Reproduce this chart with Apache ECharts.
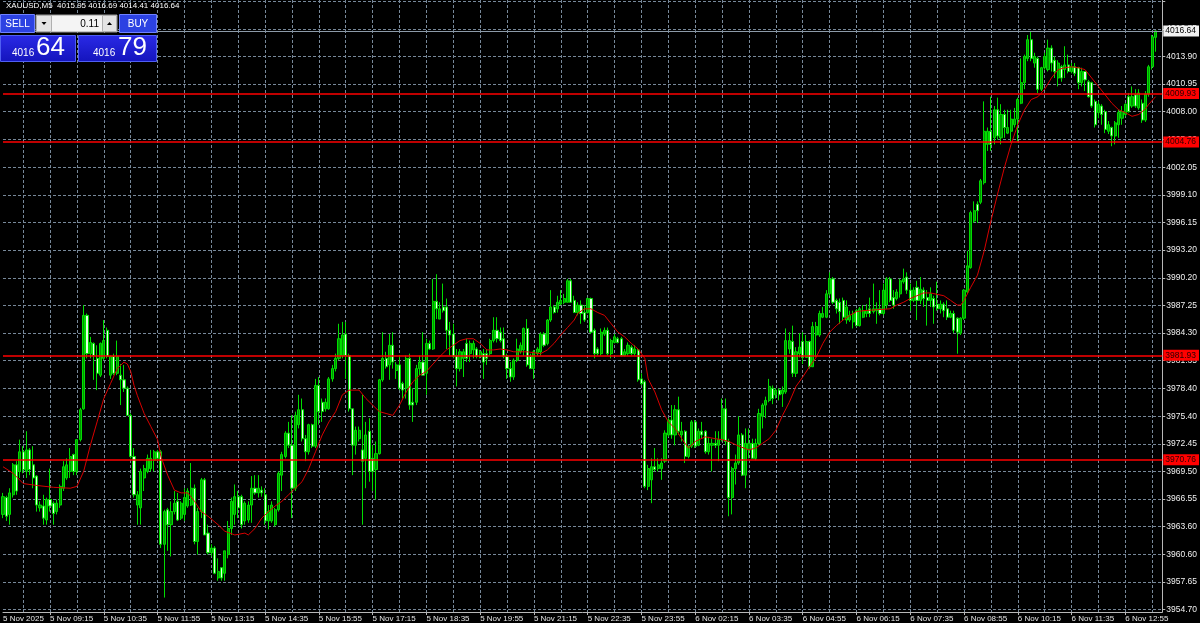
<!DOCTYPE html>
<html>
<head>
<meta charset="utf-8">
<script src="https://cdn.jsdelivr.net/npm/echarts@6/dist/echarts.min.js"></script>
<style>
html,body{margin:0;padding:0;background:#000;}
#chart{width:1200px;height:623px;}
</style>
</head>
<body>
<div id="chart"></div>
<script>
// ---------- data ----------
const symbolTitle = 'XAUUSD,M5  4015.95 4016.69 4014.41 4016.64';
const firstLabel = '5 Nov 2025';
const sessions = [
  { day: '5 Nov', start: '08:05', bars: 191 },
  { day: '6 Nov', start: '01:00', bars: 153 }
];
const spareSlots = 2;

// rows: [open, high, low, close]
const candles5Nov = [
[3964.9,3967.2,3964.5,3966.8],[3966.7,3966.9,3964.2,3964.7],[3964.9,3967.7,3963.8,3967.2],[3967.0,3970.4,3966.7,3970.2],
[3970.2,3970.6,3967.0,3967.4],[3969.5,3972.9,3968.8,3971.6],[3971.6,3972.2,3969.3,3969.7],[3969.5,3973.8,3968.8,3971.8],
[3971.8,3972.0,3969.1,3969.7],[3970.2,3972.2,3967.7,3968.8],[3969.0,3969.1,3965.2,3965.9],[3965.6,3966.3,3965.2,3965.9],
[3965.8,3967.0,3963.8,3964.5],[3964.3,3966.7,3963.8,3966.5],[3966.5,3969.8,3965.2,3965.8],[3966.1,3966.3,3963.8,3965.0],
[3965.2,3966.5,3964.9,3966.1],[3965.9,3968.1,3965.6,3967.9],[3967.7,3970.6,3967.4,3970.0],[3968.8,3970.9,3968.6,3970.2],
[3969.5,3972.0,3968.8,3971.1],[3971.3,3971.4,3969.1,3969.5],[3969.5,3972.9,3969.1,3972.9],[3972.9,3976.3,3972.7,3976.1],
[3976.2,3987.3,3976.1,3986.2],[3986.2,3986.4,3981.6,3982.1],[3982.1,3983.9,3981.6,3983.3],[3983.2,3983.3,3979.3,3981.9],
[3981.6,3983.0,3978.2,3980.0],[3979.8,3983.3,3979.6,3983.2],[3981.6,3985.7,3981.4,3983.5],[3984.6,3984.9,3981.6,3981.8],
[3979.8,3981.9,3979.4,3981.8],[3981.8,3982.1,3979.8,3980.0],[3980.0,3983.5,3979.8,3981.8],[3979.8,3981.0,3976.6,3979.3],
[3979.3,3980.9,3978.0,3978.4],[3978.4,3978.6,3975.5,3975.5],[3975.5,3975.7,3970.9,3971.1],[3971.1,3972.0,3966.7,3967.0],
[3965.9,3967.4,3963.8,3967.0],[3965.6,3969.8,3963.8,3969.5],[3968.8,3970.2,3967.4,3969.8],[3969.5,3971.3,3969.3,3970.9],
[3969.8,3971.8,3969.5,3970.9],[3970.7,3971.8,3969.5,3971.6],[3971.6,3971.8,3970.6,3970.9],[3971.6,3971.8,3961.3,3961.7],
[3961.7,3965.4,3956.0,3965.2],[3965.4,3965.6,3961.0,3963.8],[3963.8,3966.3,3960.4,3965.2],[3965.2,3967.4,3964.9,3966.1],
[3966.3,3967.2,3964.2,3964.3],[3964.5,3966.3,3964.3,3966.1],[3964.9,3967.7,3964.2,3966.7],[3965.8,3967.7,3965.6,3967.4],
[3965.9,3970.4,3965.8,3967.7],[3967.7,3968.1,3961.7,3962.0],[3962.0,3965.6,3960.6,3965.2],[3965.2,3968.8,3964.5,3968.6],
[3968.6,3968.8,3962.7,3962.7],[3962.9,3963.8,3960.6,3960.8],[3960.8,3961.7,3960.4,3961.3],[3961.3,3961.5,3958.5,3958.6],
[3958.1,3960.2,3957.8,3958.8],[3959.2,3959.2,3957.8,3958.1],[3958.6,3961.0,3957.8,3961.0],[3960.6,3964.2,3960.2,3963.4],
[3963.4,3966.7,3962.7,3966.3],[3964.9,3968.1,3963.8,3966.8],[3966.8,3967.4,3964.5,3965.6],[3966.8,3967.0,3963.4,3963.8],
[3964.2,3966.3,3963.8,3966.1],[3964.3,3966.3,3964.0,3965.9],[3965.9,3969.0,3964.0,3967.7],[3967.7,3969.1,3967.0,3967.2],
[3967.2,3969.1,3966.7,3967.7],[3967.5,3967.9,3966.8,3967.2],[3967.0,3967.7,3963.8,3964.2],[3964.2,3965.9,3963.3,3965.2],
[3964.2,3966.3,3964.0,3965.9],[3963.8,3965.6,3963.6,3965.4],[3965.4,3969.5,3965.2,3969.3],[3969.1,3971.6,3967.4,3971.3],
[3971.1,3973.8,3970.9,3973.6],[3973.6,3974.8,3972.0,3972.3],[3972.3,3975.5,3964.5,3967.7],[3967.7,3975.9,3967.4,3975.5],
[3974.5,3977.7,3974.1,3976.1],[3976.1,3977.3,3972.7,3973.0],[3973.0,3973.4,3970.6,3971.6],[3971.6,3974.6,3971.3,3974.5],
[3974.5,3974.6,3972.0,3972.2],[3972.2,3979.4,3972.0,3978.7],[3978.7,3979.6,3974.5,3975.9],[3976.9,3977.3,3974.8,3975.9],
[3976.2,3977.3,3975.9,3976.9],[3976.2,3979.6,3976.1,3979.4],[3979.4,3980.9,3979.1,3980.5],[3980.5,3982.1,3980.2,3981.6],
[3981.6,3985.3,3981.4,3983.7],[3981.9,3985.5,3981.6,3984.1],[3984.2,3985.5,3979.4,3981.9],[3981.9,3982.1,3975.9,3976.2],
[3976.2,3976.2,3969.1,3972.3],[3972.3,3974.3,3971.3,3973.9],[3973.0,3974.3,3972.7,3973.9],[3971.8,3977.7,3963.8,3970.6],
[3970.9,3974.8,3967.7,3973.4],[3973.8,3975.2,3968.4,3969.5],[3970.9,3972.3,3967.4,3969.5],[3969.7,3972.7,3966.5,3971.4],
[3971.4,3979.4,3971.3,3979.3],[3979.3,3984.4,3979.1,3981.6],[3981.6,3982.3,3980.5,3980.7],[3980.9,3984.2,3979.3,3983.0],
[3983.0,3984.4,3980.5,3981.2],[3980.3,3981.2,3979.4,3980.9],[3980.9,3981.9,3978.2,3978.4],[3978.9,3979.1,3977.3,3978.2],
[3978.4,3981.9,3977.3,3981.6],[3981.6,3982.1,3976.1,3976.6],[3976.9,3978.4,3974.8,3976.6],[3976.9,3980.9,3976.6,3980.5],
[3980.5,3981.9,3979.8,3981.2],[3981.2,3984.4,3979.8,3979.8],[3980.0,3983.7,3977.7,3983.2],[3983.2,3983.5,3982.5,3982.6],
[3982.6,3990.1,3982.5,3987.7],[3987.7,3990.6,3985.8,3986.9],[3985.8,3987.6,3985.8,3986.9],[3987.1,3989.6,3986.5,3986.7],
[3987.1,3988.0,3982.6,3984.6],[3984.6,3985.5,3981.9,3984.1],[3984.2,3985.3,3981.6,3981.8],[3981.9,3982.6,3978.6,3980.5],
[3980.5,3982.6,3980.2,3982.3],[3981.6,3982.6,3979.6,3982.3],[3983.2,3983.7,3981.2,3981.6],[3982.1,3983.5,3981.2,3983.2],
[3982.5,3983.5,3981.6,3983.2],[3982.6,3982.8,3981.6,3981.8],[3981.8,3982.5,3981.6,3982.3],[3982.1,3982.6,3979.4,3981.2],
[3982.1,3982.6,3980.9,3981.6],[3982.1,3983.7,3981.9,3983.5],[3983.5,3986.0,3983.3,3984.6],[3984.6,3986.0,3983.3,3983.7],
[3984.4,3984.9,3983.3,3983.5],[3983.7,3984.9,3981.6,3981.8],[3981.8,3982.1,3979.4,3980.5],[3980.5,3981.2,3979.1,3979.6],
[3979.6,3981.6,3979.3,3981.4],[3981.4,3983.7,3981.2,3982.6],[3982.3,3983.3,3982.1,3983.0],[3982.5,3984.9,3981.9,3984.8],
[3984.8,3985.8,3980.7,3980.9],[3981.8,3982.1,3980.5,3980.5],[3980.5,3982.5,3979.4,3982.3],[3982.1,3982.8,3981.9,3982.6],
[3982.3,3984.4,3981.9,3984.2],[3984.2,3984.4,3982.8,3983.0],[3983.2,3985.8,3983.0,3985.7],[3985.7,3988.9,3985.5,3987.1],
[3987.1,3987.3,3986.4,3986.5],[3986.9,3988.3,3986.5,3987.6],[3987.4,3988.9,3987.3,3987.8],[3987.6,3988.5,3987.4,3988.0],
[3987.6,3990.1,3987.6,3989.9],[3989.9,3990.1,3987.6,3987.6],[3987.8,3988.3,3986.5,3986.5],[3986.5,3987.6,3986.2,3987.3],
[3987.3,3987.8,3985.3,3986.4],[3986.5,3987.3,3985.5,3985.7],[3986.5,3988.1,3986.4,3988.0],[3988.0,3988.1,3984.2,3984.4],
[3984.6,3984.8,3981.6,3982.1],[3982.6,3982.8,3981.9,3982.1],[3982.1,3984.8,3981.9,3984.4],[3984.2,3984.9,3984.0,3984.6],
[3984.6,3984.9,3981.9,3982.1],[3982.1,3983.7,3981.6,3983.5],[3983.3,3984.2,3983.2,3983.9],[3983.7,3983.9,3983.2,3983.3],
[3983.7,3983.9,3981.8,3981.9],[3981.9,3982.6,3981.8,3982.3],[3982.1,3983.3,3981.9,3983.0],[3982.8,3983.0,3981.9,3982.1],
[3982.1,3983.0,3981.9,3982.6],[3982.5,3982.6,3979.1,3979.3],[3979.4,3980.0,3978.7,3978.9]
];
const candles6Nov = [
[3979.1,3979.3,3967.7,3967.9],[3967.9,3970.2,3967.5,3969.8],[3968.6,3970.9,3966.1,3970.0],[3970.0,3972.0,3969.5,3969.7],
[3969.8,3970.9,3969.5,3970.2],[3969.8,3970.9,3968.6,3970.4],[3970.6,3973.9,3970.4,3973.6],[3973.4,3975.2,3973.2,3975.0],
[3975.0,3976.6,3973.0,3973.4],[3973.4,3976.6,3972.3,3976.1],[3976.1,3977.5,3973.4,3973.8],[3973.4,3974.8,3972.7,3973.8],
[3973.8,3973.9,3970.4,3971.1],[3971.1,3972.3,3970.9,3972.2],[3972.2,3975.0,3972.0,3974.8],[3974.8,3975.0,3972.0,3972.2],
[3972.3,3974.1,3972.2,3973.8],[3973.8,3974.8,3973.0,3973.4],[3973.8,3973.9,3971.4,3971.6],[3971.6,3973.2,3971.3,3972.5],
[3972.3,3973.0,3969.5,3972.5],[3972.5,3973.8,3972.0,3972.3],[3972.3,3973.8,3970.6,3972.9],[3972.9,3977.3,3972.7,3976.2],
[3976.2,3977.3,3972.3,3972.7],[3972.7,3973.0,3964.7,3966.7],[3966.7,3970.0,3964.9,3969.8],[3969.8,3971.3,3968.1,3970.4],
[3970.4,3975.4,3970.2,3973.4],[3973.4,3973.6,3969.0,3969.1],[3969.1,3974.1,3967.7,3972.5],[3971.8,3974.1,3970.9,3972.5],
[3972.5,3973.0,3970.9,3970.9],[3970.9,3973.0,3970.7,3972.5],[3972.5,3976.2,3972.3,3975.7],[3975.4,3976.8,3974.1,3976.6],
[3976.6,3977.5,3975.2,3977.1],[3977.1,3979.4,3976.9,3978.6],[3978.4,3978.7,3976.7,3977.3],[3977.7,3978.4,3977.3,3978.2],
[3978.2,3978.4,3977.1,3977.7],[3977.8,3978.6,3976.4,3978.2],[3978.0,3984.8,3977.8,3983.5],[3982.6,3984.4,3982.1,3983.5],
[3983.4,3985.1,3979.6,3980.0],[3980.0,3982.8,3979.6,3982.3],[3982.1,3984.3,3981.7,3982.8],[3983.4,3984.4,3981.0,3981.7],
[3981.7,3984.1,3981.7,3983.4],[3983.4,3983.5,3980.5,3980.7],[3980.7,3985.5,3980.7,3985.0],[3984.1,3985.5,3981.7,3985.0],
[3984.1,3986.7,3983.9,3986.4],[3986.0,3987.1,3985.9,3986.4],[3986.0,3988.9,3985.9,3988.5],[3988.5,3990.8,3988.3,3990.1],
[3990.1,3990.3,3987.4,3987.6],[3987.8,3988.0,3986.4,3986.9],[3987.6,3988.0,3985.3,3986.6],[3987.8,3988.1,3985.7,3986.0],
[3985.7,3987.8,3985.3,3987.1],[3985.7,3986.7,3985.5,3986.2],[3985.5,3986.7,3984.8,3986.4],[3986.7,3986.9,3985.0,3985.1],
[3985.1,3987.1,3985.0,3986.9],[3986.0,3987.3,3985.9,3986.7],[3986.4,3987.4,3986.0,3986.7],[3986.9,3988.1,3986.0,3986.4],
[3986.6,3989.6,3986.4,3986.9],[3986.7,3987.6,3985.3,3986.9],[3986.9,3988.9,3986.2,3986.4],[3986.4,3989.6,3986.2,3988.9],
[3987.3,3990.3,3986.9,3990.1],[3990.1,3990.3,3987.6,3987.8],[3988.1,3988.9,3986.9,3987.3],[3988.0,3989.0,3987.8,3988.7],
[3988.5,3990.1,3988.1,3989.9],[3989.8,3991.2,3989.6,3990.1],[3990.3,3990.8,3988.5,3988.9],[3988.9,3989.6,3986.7,3987.8],
[3987.8,3989.2,3987.6,3988.9],[3989.2,3989.9,3985.7,3987.8],[3987.8,3990.3,3987.4,3989.0],[3988.9,3989.2,3987.1,3988.0],
[3988.1,3988.9,3985.1,3987.8],[3987.8,3989.2,3987.1,3988.5],[3988.0,3988.3,3985.3,3987.1],[3987.4,3989.8,3986.7,3986.9],
[3986.9,3987.8,3986.4,3987.4],[3987.4,3987.6,3986.0,3986.7],[3986.9,3987.8,3985.7,3986.0],[3986.0,3986.7,3985.9,3986.4],
[3986.4,3986.7,3984.3,3984.6],[3985.9,3986.0,3982.1,3984.4],[3984.3,3986.0,3984.1,3985.9],[3985.9,3989.0,3985.7,3988.9],
[3988.7,3993.1,3988.5,3991.5],[3991.3,3997.4,3991.2,3997.2],[3996.3,3998.4,3996.1,3997.4],[3998.1,3998.4,3996.1,3997.4],
[3998.3,4000.8,3998.1,4000.6],[4000.4,4009.1,4000.2,4005.9],[4004.5,4006.3,4003.8,4005.9],[4005.9,4009.6,4003.8,4004.5],
[4005.2,4008.6,4004.5,4008.2],[4008.2,4009.5,4005.0,4005.4],[4005.2,4008.8,4004.5,4007.7],[4007.7,4008.2,4005.2,4006.3],
[4005.7,4008.2,4005.6,4006.3],[4005.9,4008.2,4004.7,4007.2],[4006.6,4008.4,4006.3,4007.2],[4007.2,4009.5,4004.8,4009.3],
[4008.9,4013.7,4008.8,4011.1],[4011.1,4014.1,4010.4,4013.9],[4013.7,4016.2,4013.4,4015.7],[4015.7,4016.6,4013.4,4013.7],
[4013.2,4014.3,4012.7,4013.9],[4013.7,4013.9,4010.0,4010.4],[4010.4,4012.8,4010.2,4012.7],[4012.7,4014.3,4012.5,4013.9],
[4012.5,4015.7,4012.3,4014.8],[4014.8,4015.1,4012.3,4013.2],[4013.5,4013.9,4011.6,4012.3],[4011.6,4013.5,4010.7,4013.2],
[4012.8,4013.0,4011.2,4011.6],[4012.5,4015.0,4011.6,4013.0],[4013.0,4014.1,4012.1,4012.3],[4012.3,4013.2,4012.1,4012.8],
[4012.8,4013.2,4011.8,4012.1],[4012.7,4012.8,4010.4,4011.1],[4011.1,4012.7,4010.7,4012.3],[4012.3,4012.3,4010.2,4011.4],
[4011.2,4011.4,4009.5,4009.6],[4011.1,4011.2,4008.4,4008.6],[4009.1,4009.3,4006.3,4006.6],[4007.9,4009.1,4007.3,4008.8],
[4008.6,4008.8,4006.6,4007.7],[4008.0,4008.2,4005.7,4006.1],[4005.9,4007.0,4005.6,4006.6],[4006.3,4006.4,4004.3,4005.4],
[4005.4,4007.0,4004.5,4006.8],[4006.6,4008.2,4005.2,4007.9],[4007.3,4008.6,4006.6,4008.0],[4007.7,4008.9,4007.5,4008.8],
[4009.6,4010.0,4007.9,4008.0],[4008.6,4010.7,4008.4,4009.6],[4009.8,4010.4,4008.4,4008.6],[4008.4,4010.4,4008.2,4010.0],
[4008.9,4009.3,4006.8,4007.1],[4007.1,4010.2,4006.9,4009.9],[4009.9,4013.0,4009.6,4012.8],[4012.8,4016.2,4012.5,4016.0],
[4015.95,4016.69,4014.41,4016.64]
];

// moving average: [bar index, price]
const maPoints = [
[0,3970.0],[3,3969.3],[6,3968.2],[10,3968.0],[15,3967.8],[20,3967.7],[22,3967.9],[24,3969.5],[26,3972.3],[28,3974.8],
[30,3977.3],[32,3978.9],[34,3980.5],[36,3981.2],[37,3981.0],[38,3980.2],[39,3978.7],[40,3977.6],[42,3975.7],[44,3974.3],
[46,3972.9],[47,3971.1],[49,3969.1],[51,3967.5],[53,3967.2],[55,3967.2],[57,3966.3],[59,3965.2],[61,3964.7],[64,3963.8],
[66,3963.1],[69,3962.7],[72,3962.9],[73,3962.7],[75,3963.4],[77,3964.5],[79,3965.2],[81,3965.8],[83,3966.3],[85,3967.0],
[87,3967.7],[89,3968.4],[91,3969.8],[93,3971.6],[95,3973.4],[97,3974.8],[99,3975.9],[101,3977.7],[103,3978.2],[106,3978.2],
[108,3977.3],[110,3976.6],[112,3975.9],[114,3975.7],[116,3975.5],[118,3976.6],[120,3978.0],[122,3979.1],[124,3979.8],[126,3980.2],
[128,3981.0],[130,3981.8],[132,3982.5],[134,3983.0],[136,3983.5],[138,3983.7],[140,3983.7],[142,3983.2],[144,3982.5],[146,3982.5],
[148,3982.6],[150,3982.5],[152,3982.3],[156,3982.3],[160,3982.1],[162,3982.5],[164,3983.2],[166,3984.1],[168,3984.9],[170,3985.7],
[171,3986.4],[173,3986.9],[175,3986.9],[177,3986.5],[179,3986.2],[181,3985.3],[183,3984.4],[185,3983.9],[187,3983.2],[189,3982.6],
[191,3981.6],[192,3979.4],[194,3978.0],[196,3976.1],[198,3974.8],[200,3974.1],[202,3973.0],[204,3972.0],[206,3972.7],[209,3973.2],
[212,3973.0],[214,3972.9],[216,3972.7],[219,3972.2],[222,3971.8],[224,3972.0],[226,3972.5],[228,3973.0],[230,3973.9],[232,3975.5],
[234,3976.9],[236,3978.6],[238,3979.6],[240,3980.7],[242,3981.7],[244,3983.2],[246,3984.4],[248,3985.1],[250,3985.7],[252,3986.2],
[254,3986.6],[256,3986.7],[260,3986.8],[264,3986.9],[266,3987.3],[268,3987.6],[270,3988.0],[272,3988.3],[274,3988.6],[276,3988.6],
[280,3988.3],[282,3987.8],[284,3987.3],[285,3987.3],[286,3987.8],[288,3989.2],[290,3990.5],[292,3993.1],[294,3996.3],[296,3999.2],
[298,4002.0],[300,4004.5],[302,4006.6],[304,4008.2],[306,4009.3],[308,4009.6],[310,4010.4],[312,4011.6],[314,4012.5],[316,4012.7],
[318,4012.8],[320,4012.7],[322,4012.5],[324,4011.6],[326,4010.7],[328,4009.8],[330,4008.9],[332,4008.2],[334,4007.9],[336,4007.5],
[338,4007.7],[340,4008.3],[341,4008.8],[343,4009.6]
];

const levelLines = [4009.93, 4004.76, 3981.93, 3970.76];
const bidPrice = 4016.64;
const yTicks = [3954.70,3957.65,3960.60,3963.60,3966.55,3969.50,3972.45,3975.40,3978.40,3981.35,3984.30,
  3987.25,3990.20,3993.20,3996.15,3999.10,4002.05,4005.00,4008.00,4010.95,4013.90,4016.85,4019.80];
const yTickLabels = yTicks.slice(0, yTicks.length - 1);
const priceMin = 3954.455, priceMax = 4019.948;
const sellQuote = ['4016', '64'];
const buyQuote = ['4016', '79'];
const lotSize = '0.11';

// ---------- build ----------
function pad(n){ return (n < 10 ? '0' : '') + n; }
const categories = [];
sessions.forEach(s => {
  const [h, m] = s.start.split(':').map(Number);
  for (let k = 0; k < s.bars; k++) {
    const t = h * 60 + m + 5 * k;
    categories.push(s.day + ' ' + pad(Math.floor(t / 60)) + ':' + pad(t % 60));
  }
});
for (let k = 0; k < spareSlots; k++) categories.push('');

const rows = candles5Nov.concat(candles6Nov);
const candleData = rows.map(r => [r[0], r[3], r[2], r[1]]);

const FONT = '"Liberation Sans", Arial, sans-serif';
const gridColor = '#778899';
const isLabelIdx = i => i === 0 || (i >= 14 && (i - 14) % 16 === 0);

const chart = echarts.init(document.getElementById('chart'), null, {renderer: 'canvas'});

function levelItem(v) {
  return {
    yAxis: v,
    lineStyle: {color: '#ff0000', type: 'solid', width: 1.5},
    label: {
      show: true, position: 'end', distance: 1, formatter: () => v.toFixed(2),
      backgroundColor: '#ff0000', color: '#2a0000', fontFamily: FONT, fontSize: 8.5,
      padding: [1, 3, 1, 2]
    }
  };
}

const option = {
  backgroundColor: '#000000',
  animation: false,
  grid: {left: 0, right: 37, top: 0, bottom: 9, containLabel: false},
  xAxis: {
    type: 'category',
    data: categories,
    boundaryGap: false,
    axisLine: {show: true, lineStyle: {color: '#b8b8b8', width: 1}},
    axisTick: {show: true, length: 3, interval: (i) => i > 0 && isLabelIdx(i), lineStyle: {color: '#b8b8b8'}},
    axisLabel: {
      show: true, interval: (i) => isLabelIdx(i), align: 'left', margin: 3,
      hideOverlap: false, showMinLabel: true,
      color: '#e6e6e6', fontFamily: FONT, fontSize: 8,
      formatter: (v, i) => i === 0 ? firstLabel : v
    },
    splitLine: {show: true, interval: (i) => i >= 6 && (i - 6) % 8 === 0,
      lineStyle: {color: gridColor, type: [3, 2], width: 1}}
  },
  yAxis: {
    type: 'value',
    position: 'right',
    min: priceMin, max: priceMax,
    axisLine: {show: true, lineStyle: {color: '#b8b8b8', width: 1}},
    axisTick: {show: true, length: 3, customValues: yTicks, lineStyle: {color: '#b8b8b8'}},
    axisLabel: {
      show: true, customValues: yTickLabels, margin: 4, color: '#f0f0f0',
      fontFamily: FONT, fontSize: 8.5, formatter: v => Number(v).toFixed(2)
    },
    splitLine: {show: true, lineStyle: {color: gridColor, type: [3, 2], width: 1}}
  },
  series: [
    {
      type: 'candlestick',
      data: candleData,
      barWidth: 2.6,
      itemStyle: {
        color: '#009400', color0: '#e4ffe4',
        borderColor: '#00dd00', borderColor0: '#00dd00', borderWidth: 1
      },
      markLine: {
        silent: true, symbol: 'none', animation: false,
        data: levelLines.map(levelItem).concat([{
          yAxis: bidPrice,
          lineStyle: {color: '#8c9aa8', type: 'solid', width: 1},
          label: {
            show: true, position: 'end', distance: 1, formatter: () => bidPrice.toFixed(2),
            backgroundColor: '#f2f2f2', color: '#000000', fontFamily: FONT, fontSize: 8.5,
            padding: [1, 3, 1, 2]
          }
        }])
      }
    },
    {
      type: 'line',
      data: maPoints,
      showSymbol: false,
      symbol: 'none',
      lineStyle: {color: '#d80000', width: 1},
      z: 3
    }
  ],
  graphic: [
    {type: 'text', x: 6, y: 2, z: 100, style: {text: symbolTitle, fill: '#ffffff', fontFamily: FONT, fontSize: 8}},
    // SELL button
    {type: 'rect', z: 100, shape: {x: 0.5, y: 14.5, width: 34, height: 18}, style: {fill: '#2c42e2', stroke: '#6f82ff', lineWidth: 1}},
    {type: 'text', z: 101, x: 17.5, y: 24, style: {text: 'SELL', fill: '#ffffff', fontFamily: FONT, fontSize: 10, align: 'center', verticalAlign: 'middle'}},
    // lot field
    {type: 'rect', z: 100, shape: {x: 36, y: 15, width: 81, height: 17}, style: {fill: '#f4f4f4', stroke: '#9a9a9a', lineWidth: 1}},
    {type: 'rect', z: 101, shape: {x: 36.5, y: 15.5, width: 15, height: 16}, style: {fill: '#e4e4e4', stroke: '#b0b0b0', lineWidth: 1}},
    {type: 'rect', z: 101, shape: {x: 102.5, y: 15.5, width: 14, height: 16}, style: {fill: '#e4e4e4', stroke: '#b0b0b0', lineWidth: 1}},
    {type: 'polygon', z: 102, shape: {points: [[41.5, 22], [46.5, 22], [44, 25]]}, style: {fill: '#000'}},
    {type: 'polygon', z: 102, shape: {points: [[107, 25], [112, 25], [109.5, 22]]}, style: {fill: '#000'}},
    {type: 'text', z: 101, x: 99, y: 24, style: {text: lotSize, fill: '#000000', fontFamily: FONT, fontSize: 10, align: 'right', verticalAlign: 'middle'}},
    // BUY button
    {type: 'rect', z: 100, shape: {x: 119.5, y: 14.5, width: 37, height: 18}, style: {fill: '#2c42e2', stroke: '#6f82ff', lineWidth: 1}},
    {type: 'text', z: 101, x: 138, y: 24, style: {text: 'BUY', fill: '#ffffff', fontFamily: FONT, fontSize: 10, align: 'center', verticalAlign: 'middle'}},
    // price boxes
    {type: 'rect', z: 100, shape: {x: 0.5, y: 35.5, width: 75, height: 26},
      style: {fill: {type: 'linear', x: 0, y: 0, x2: 0, y2: 1, colorStops: [{offset: 0, color: '#2a2ae6'}, {offset: 1, color: '#1414bc'}]}, stroke: '#4f5ff2', lineWidth: 1}},
    {type: 'rect', z: 100, shape: {x: 78.5, y: 35.5, width: 78, height: 26},
      style: {fill: {type: 'linear', x: 0, y: 0, x2: 0, y2: 1, colorStops: [{offset: 0, color: '#2a2ae6'}, {offset: 1, color: '#1414bc'}]}, stroke: '#4f5ff2', lineWidth: 1}},
    {type: 'text', z: 101, x: 12, y: 58, style: {text: sellQuote[0], fill: '#ffffff', fontFamily: FONT, fontSize: 10, verticalAlign: 'bottom'}},
    {type: 'text', z: 101, x: 36, y: 61, style: {text: sellQuote[1], fill: '#ffffff', fontFamily: FONT, fontSize: 26, verticalAlign: 'bottom'}},
    {type: 'text', z: 101, x: 93, y: 58, style: {text: buyQuote[0], fill: '#ffffff', fontFamily: FONT, fontSize: 10, verticalAlign: 'bottom'}},
    {type: 'text', z: 101, x: 118, y: 61, style: {text: buyQuote[1], fill: '#ffffff', fontFamily: FONT, fontSize: 26, verticalAlign: 'bottom'}}
  ]
};
chart.setOption(option);
</script>
</body>
</html>
